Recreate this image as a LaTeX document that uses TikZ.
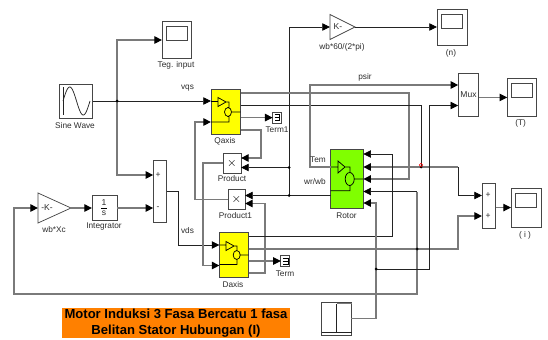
\documentclass[tikz,border=0pt]{standalone}
\usepackage{fontspec}
\setmainfont{Liberation Sans}
\usetikzlibrary{arrows.meta,calc}

\definecolor{motorWire}{RGB}{35,35,35}
\definecolor{motorGrey}{RGB}{122,122,122}
\definecolor{motorEdge}{RGB}{70,70,70}
\definecolor{motorYellow}{RGB}{255,255,0}
\definecolor{motorGreen}{RGB}{128,255,0}
\definecolor{motorOrange}{RGB}{255,128,0}
\definecolor{motorText}{RGB}{45,45,45}

\begin{document}
\begin{tikzpicture}[x=.75pt,y=-.75pt,
      block/.style n args={2}{draw=motorEdge, fill=white, line width=.7pt,
        minimum width=#1*.75pt, minimum height=#2*.75pt,
        inner sep=0pt, outer sep=0pt},
      tag/.style={font=\fontsize{6.2}{7}\selectfont, text=motorText, inner sep=0pt},
      sign/.style={font=\fontsize{6.4}{7}\selectfont, text=motorText, inner sep=0pt},
      icon/.style={draw=black, line width=.55pt},
      wire/.style={draw=motorWire, line width=.55pt},
      wiregrey/.style={draw=motorGrey, line width=.85pt},
      arr/.style={-{Triangle[length=5.8pt,width=5.6pt,color=black,fill=black]}},
      dot/.style={fill=black}]
      \useasboundingbox (0,0) rectangle (548,339);
      \fill[white] (0,0) rectangle (548,339);

      % blocks
      \node[block={33.5}{34}] (sine) at (75.75,101) {};
      \node[block={29}{37.5}] (tegscope) at (176.5,40) {};
      \node[block={29.5}{45}] (qaxis) at (225.75,111.5) [fill=motorYellow] {};
      \node[block={18}{20}] (product) at (232,163) {\small$\times$};
      \node[block={17}{20}] (product1) at (236.5,199.5) {\small$\times$};
      \node[block={29}{45.5}] (daxis) at (234,255) [fill=motorYellow] {};
      \node[block={13.5}{62.5}] (sumv) at (160,191.5) {};
      \node[block={25}{25}] (integ) at (104.5,208) {};
      \node[block={32.5}{59}] (rotor) at (347,178.5) [fill=motorGreen] {};
      \node[block={20.5}{43.5}] (mux) at (468.5,95) {};
      \node[block={13.5}{45}] (sumi) at (488.75,205.5) {};
      \node[block={30}{36}] (nscope) at (452,27) {};
      \node[block={29.5}{38.5}] (tscope) at (522,97.4) {};
      \node[block={30}{39}] (iscope) at (526,207.6) {};
      \node[block={9}{11}] (term1) at (277.2,117.6) {};
      \node[block={9}{11}] (term) at (285.4,261) {};
      \node[block={29.5}{33}] (stepbox) at (336.7,318.5) {};

      % gains
      \coordinate (wxin) at (38,208);
      \coordinate (wxtip) at (71,208);
      \coordinate (speedin) at (330,27);
      \coordinate (speedtip) at (355,27);
      \draw[icon,draw=motorEdge,fill=white] (wxin) ++(0,-15) -- (wxtip) -- (38,223) -- cycle;
      \draw[icon,draw=motorEdge,fill=white] (speedin) ++(0,-12.5) -- (speedtip) -- (330,39.5) -- cycle;
      \node[sign] (wxk) at (47,208) {-K-};
      \node[sign] (speedk) at (338,27) {K-};

      % scope screens
      \foreach \s in {tegscope,nscope,tscope,iscope}{
        \draw[draw=motorEdge, line width=.6pt]
          ($(\s.north west)+(4,5)$) rectangle +(21.5,14);}

      % sine icon
      \draw[icon,draw=motorWire] (63,87) -- (63,115);
      \draw[icon,draw=motorWire] plot[domain=0:360,samples=40] ({63+\x*27/360},{101-14*sin(\x)});

      % integrator
      \node[sign] (intone) at (104,202.5) {1};
      \node[sign] (ints) at (104,213.5) {s};
      \draw[line width=.4pt] (101,208) -- (107,208);

      % signs
      \node[sign] (sumvplus) at (158,175) {+};
      \node[sign] (sumvminus) at (158,208) {-};
      \node[sign] (sumione) at (488,195.5) {+};
      \node[sign] (sumitwo) at (488,216) {+};
      \node[sign] (muxtext) at (468.5,94.5) {Mux};

      % subsystem icons
      \draw[icon] (211,101.5) -- (218,101.5) (218,97.5) -- (226,102) -- (218,106.5) -- cycle
        (226,102) -- (229,102) -- (229,107.5) (229,116.5) -- (229,122) -- (211,122)
        (231.5,112) -- (240.5,112) (228,112) ellipse (3.5 and 4.5);
      \draw[icon] (219.5,245) -- (226,245) (226,241.5) -- (234,246) -- (226,250.5) -- cycle
        (234,246) -- (237,246) -- (237,250.5) (237,259.5) -- (237,264.5) -- (219.5,264.5)
        (240,255) -- (248.5,255) (236.7,255) ellipse (3.5 and 4.5);
      \draw[icon] (330.7,167) -- (338,167) (338,161) -- (345,167) -- (338,173) -- cycle
        (345,167) -- (350,167) -- (350,172.5) (350,185.5) -- (350,190.7) -- (330.7,190.7)
        (354.5,179) -- (363.2,179) (349.7,179) ellipse (4.5 and 6.5);

      % terminator and step icons
      \foreach \t in {term1,term}{
        \draw[line width=.4pt]
          ($(\t.center)+(-2.5,-3)$) -- ++(5,0) -- ++(0,6) -- ++(-5,0)
          ($(\t.center)+(-2.5,0)$) -- ++(5,0);}
      \draw[icon,draw=motorWire] (322,332) -- (336.6,332) -- (336.6,303.5);
      \draw[draw=motorGrey, line width=1pt] (336.6,303.5) -- (351.7,303.5);
      \draw[icon,draw=motorWire] (336.6,332) -- (351.7,332);

      % connection points
      \coordinate (jsine) at (117,101);
      \coordinate (jspeed) at (289,195.5);
      \coordinate (jproduct) at (289,167.5);
      \coordinate (jtem) at (421,167);
      \coordinate (jcurrent) at (417,249);
      \coordinate (jstep) at (376,269);
      \coordinate (qbend) at (195,122);
      \coordinate (dbend) at (203,265.5);
      \coordinate (vdsbend) at (178.5,245);
      \coordinate (psirbend) at (310,85);
      \coordinate (tembend) at (458,167);
      \coordinate (iqbend) at (458,216);
      \coordinate (fbcorner) at (14,294);
      \coordinate (stepbend) at (376,203);
      \coordinate (qthree) at (409,179);
      \coordinate (dthree) at (392,154);
      \coordinate (torquebend) at (429.7,105.5);
      \coordinate (rotorfour) at (417,191.5);
      \coordinate (qfour) at (261,130);
      \coordinate (qfourb) at (261,158);
      \coordinate (dfour) at (265,273);
      \coordinate (dfourb) at (265,203.5);

      % connectors
      \draw[wiregrey,arr] (jsine) |- (tegscope.west);
      \draw[wiregrey,arr] (jsine) |- (sumv.west |- 0,175);
      \draw[wire,arr] (sine.east) -- (qaxis.west |- sine.east);
      \draw[wiregrey,arr] (wxtip) -- (integ.west);
      \draw[wiregrey,arr] (integ.east) -- (sumv.west |- integ.east);
      \draw[wire,arr] (sumv.east) -| (vdsbend) -- (daxis.west |- vdsbend);
      \draw[wiregrey,arr] (product1.west) -| (qbend) -- (qaxis.west |- qbend);
      \draw[wiregrey,arr] (product.west) -| (dbend) -- (daxis.west |- dbend);
      \draw[wiregrey,arr] (qaxis.east |- term1.west) -- (term1.west);
      \draw[wiregrey,arr] (daxis.east |- term.west) -- (term.west);
      \draw[wiregrey,arr] (qaxis.east |- qfour) -- (qfour) -- (qfourb) -- (product.east |- qfourb);
      \draw[wiregrey,arr] (daxis.east |- dfour) -- (dfour) -- (dfourb) -- (product1.east |- dfourb);
      \draw[wire,arr] (rotor.west |- jspeed) -- (product1.east |- jspeed);
      \draw[wire,arr] (jproduct) -- (product.east |- jproduct);
      \draw[wire,arr] (jspeed) |- (speedin);
      \draw[wire,arr] (speedtip) -- (nscope.west);
      \draw[wiregrey,arr] (qaxis.east |- 0,93) -| (qthree) -- (rotor.east |- qthree);
      \draw[wire] (qaxis.east |- 0,105.5) -| (jtem);
      \draw[wiregrey,arr] (rotor.west |- jtem) -| (psirbend) -- (mux.west |- psirbend);
      \draw[wiregrey,arr] (tembend) -- (rotor.east |- tembend);
      \draw[wire,arr] (tembend) |- (sumi.west |- 0,195.5);
      \draw[wire,arr] (daxis.east |- 0,236.7) -| (dthree) -- (rotor.east |- dthree);
      \draw[wiregrey,arr] (daxis.east |- 0,249) -| (iqbend) -- (sumi.west |- iqbend);
      \draw[wiregrey] (jcurrent) -- (rotorfour);
      \draw[wire,arr] (rotorfour) -- (rotor.east |- rotorfour);
      \draw[wiregrey,arr] (jcurrent) |- (fbcorner) |- (wxin);
      \draw[wiregrey,arr] (stepbox.east) -| (stepbend) -- (rotor.east |- stepbend);
      \draw[wire,arr] (jstep) -| (torquebend) -- (mux.west |- torquebend);
      \draw[wiregrey,arr] (mux.east |- tscope.west) -- (tscope.west);
      \draw[wiregrey,arr] (sumi.east |- iscope.west) -- (iscope.west);

      % junction dots
      \foreach \j in {jsine,jspeed,jproduct,jtem,jcurrent,jstep}{
        \fill[dot] (\j) circle (1.5);}
      \draw[red, line width=.4pt] (421,165) circle (1.8);

      % labels
      \node[tag] (teglabel) at (176,65.5) {Teg. input};
      \node[tag] (sinelabel) at (75,125.5) {Sine Wave};
      \node[tag] (vqslabel) at (187.5,88) {vqs};
      \node[tag] (vdslabel) at (187.5,231) {vds};
      \node[tag] (qaxislabel) at (225,141) {Qaxis};
      \node[tag] (term1label) at (277,130) {Term1};
      \node[tag] (productlabel) at (232,178.5) {Product};
      \node[tag] (product1label) at (235.5,216) {Product1};
      \node[tag] (daxislabel) at (233,284.5) {Daxis};
      \node[tag] (termlabel) at (285,274) {Term};
      \node[tag] (integlabel) at (104,227) {Integrator};
      \node[tag] (wxlabel) at (54,229.5) {wb*Xc};
      \node[tag] (speedlabel) at (342,47) {wb*60/(2*pi)};
      \node[tag] (nlabel) at (451,53) {(n)};
      \node[tag] (psirlabel) at (365,77) {psir};
      \node[tag] (tlabel) at (520.7,123.5) {(T)};
      \node[tag] (temlabel) at (318,159.5) {Tem};
      \node[tag] (wrlabel) at (315,182) {wr/wb};
      \node[tag] (rotorlabel) at (346.5,215.5) {Rotor};
      \node[tag] (ilabel) at (525,235) {( i )};

      % title
      \node[fill=motorOrange, minimum width=228*.75pt, minimum height=30.5*.75pt,
        inner sep=0pt, align=center, font=\fontsize{9.8}{11.9}\selectfont\bfseries]
        (title) at (176,323) {Motor Induksi 3 Fasa Bercatu 1 fasa\\Belitan Stator Hubungan (I)};
    \end{tikzpicture}
\end{document}
